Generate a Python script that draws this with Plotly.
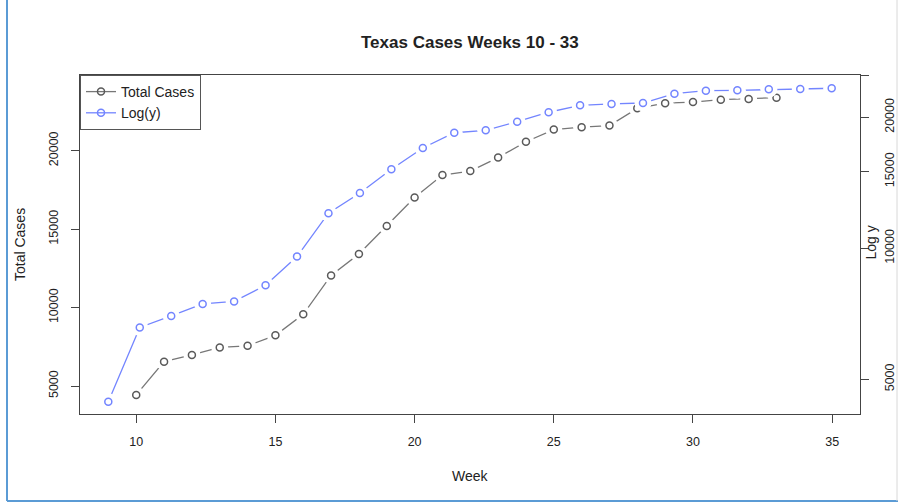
import plotly.graph_objects as go

# ---- data ----
weeks = [10, 11, 12, 13, 14, 15, 16, 17, 18, 19, 20, 21,
         22, 23, 24, 25, 26, 27, 28, 29, 30, 31, 32, 33]
total_cases = [4430, 6550, 6980, 7460, 7560, 8230, 9570, 12050, 13420, 15200, 17020, 18450,
               18700, 19560, 20570, 21350, 21500, 21600, 22700, 23030, 23100, 23250, 23300, 23380]
log_series = [4440, 6580, 6990, 7450, 7550, 8220, 9570, 12040, 13400, 15190, 17000, 18430,
              18670, 19540, 20540, 21310, 21460, 21570, 22660, 23020, 23070, 23190, 23230, 23320]
x_ticks = [10, 15, 20, 25, 30, 35]
left_ticks = [5000, 10000, 15000, 20000]
left_tick_text = ["5000", "10000", "15000", "20000"]
right_ticks = [5000, 10000, 15000, 20000, 25000]
right_tick_text = ["5000", "10000", "15000", "20000", ""]

GRAY = "#777777"
GRAY_M = "#5a5a5a"
BLUE = "#7385ff"
FONT = "Liberation Sans"

W, H = 900, 502
L, R, T, B = 80, 40, 75, 88
PW, PH = W - L - R, H - T - B


def px(xp):
    return (xp - L) / PW


def py(yp):
    return (H - B - yp) / PH


fig = go.Figure()

# lines (with markers for legend look)
fig.add_trace(go.Scatter(x=weeks, y=total_cases, mode="lines+markers", name="Total Cases",
                         line=dict(color=GRAY, width=1.3),
                         marker=dict(symbol="circle-open", size=7, color=GRAY_M, line=dict(width=1.5)),
                         xaxis="x", yaxis="y"))
fig.add_trace(go.Scatter(x=weeks, y=log_series, mode="lines+markers", name="Log(y)",
                         line=dict(color=BLUE, width=1.3),
                         marker=dict(symbol="circle-open", size=7, color=BLUE, line=dict(width=1.5)),
                         xaxis="x2", yaxis="y2"))
# white masks to create the gaps of R's type="b"
fig.add_trace(go.Scatter(x=weeks, y=total_cases, mode="markers", showlegend=False, hoverinfo="skip",
                         marker=dict(symbol="circle", size=17, color="white", line=dict(width=0)),
                         xaxis="x", yaxis="y"))
fig.add_trace(go.Scatter(x=weeks, y=log_series, mode="markers", showlegend=False, hoverinfo="skip",
                         marker=dict(symbol="circle", size=17, color="white", line=dict(width=0)),
                         xaxis="x2", yaxis="y2"))
# markers on top
fig.add_trace(go.Scatter(x=weeks, y=total_cases, mode="markers", showlegend=False,
                         marker=dict(symbol="circle-open", size=7, color=GRAY_M, line=dict(width=1.5)),
                         xaxis="x", yaxis="y"))
fig.add_trace(go.Scatter(x=weeks, y=log_series, mode="markers", showlegend=False,
                         marker=dict(symbol="circle-open", size=7, color=BLUE, line=dict(width=1.5)),
                         xaxis="x2", yaxis="y2"))

axis_line = "#444444"
tickfont = dict(family=FONT, size=12.5, color="#222222")

fig.update_layout(
    width=W, height=H,
    margin=dict(l=L, r=R, t=T, b=B, pad=0, autoexpand=False),
    paper_bgcolor="white", plot_bgcolor="white",
    font=dict(family=FONT, color="#222222"),
    showlegend=True,
    legend=dict(x=0, y=1, xanchor="left", yanchor="top", bgcolor="white",
                bordercolor="#555555", borderwidth=1, font=dict(family=FONT, size=14, color="#222222"),
                itemwidth=30, tracegroupgap=0),
    xaxis=dict(range=[7.98, 36.0], tickvals=x_ticks, ticks="outside", ticklen=8, tickcolor=axis_line,
               showline=True, linecolor=axis_line, linewidth=1, mirror=True, showgrid=False,
               zeroline=False, tickfont=tickfont, ticklabelstandoff=8, automargin=False),
    xaxis2=dict(range=[9.10, 33.90], overlaying="x", visible=False, showgrid=False, zeroline=False,
                automargin=False),
    yaxis=dict(range=[3215, 24826], tickvals=left_ticks, ticktext=left_tick_text, ticks="outside",
               ticklen=8, tickcolor=axis_line,
               showline=True, linecolor=axis_line, linewidth=1, showgrid=False, zeroline=False,
               tickangle=-90, tickfont=tickfont, ticklabelstandoff=8, automargin=False),
    yaxis2=dict(type="log", range=[3.6192, 4.3982], overlaying="y", side="right", anchor="x",
                tickvals=right_ticks, ticktext=right_tick_text, ticks="outside", ticklen=8,
                tickcolor=axis_line, showline=True, linecolor=axis_line, linewidth=1,
                showgrid=False, zeroline=False, tickangle=-90, tickfont=tickfont,
                ticklabelstandoff=10, automargin=False),
)

ann = [
    dict(text="<b>Texas Cases Weeks 10 - 33</b>", x=0.5, y=py(42), font=dict(size=17)),
    dict(text="Week", x=0.5, y=py(476), font=dict(size=14)),
    dict(text="Total Cases", x=px(20), y=py(245), textangle=-90, font=dict(size=14)),
    dict(text="Log y", x=px(870), y=py(242.5), textangle=-90, font=dict(size=14)),
]
for a in ann:
    fig.add_annotation(xref="paper", yref="paper", showarrow=False, xanchor="center", yanchor="middle",
                       font=dict(family=FONT, color="#222222", size=a["font"]["size"]),
                       **{k: v for k, v in a.items() if k != "font"})

# outer screenshot frame
fig.add_shape(type="line", xref="paper", yref="paper", x0=px(7), x1=px(7), y0=py(0), y1=py(501),
              line=dict(color="#5b9bd5", width=2))
fig.add_shape(type="line", xref="paper", yref="paper", x0=px(7), x1=px(898), y0=py(501), y1=py(501),
              line=dict(color="#5b9bd5", width=2))
fig.add_shape(type="line", xref="paper", yref="paper", x0=px(897), x1=px(897), y0=py(0), y1=py(501),
              line=dict(color="#d8d8d8", width=1))

fig.write_html("out.html")
